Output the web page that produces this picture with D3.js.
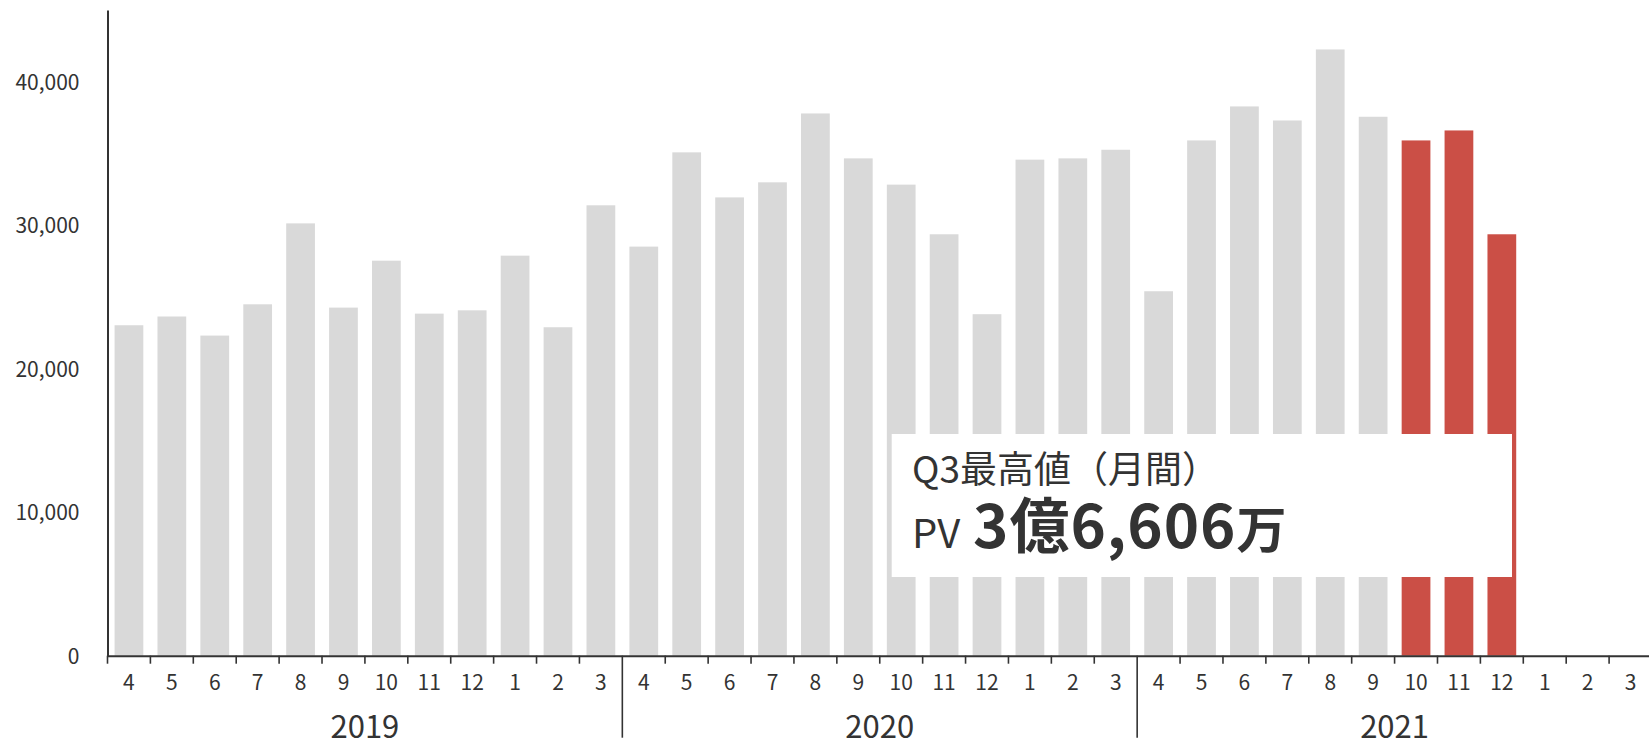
<!DOCTYPE html>
<html lang="ja">
<head>
<meta charset="utf-8">
<script src="https://cdn.jsdelivr.net/npm/d3@7"></script>
<style>
  body { margin: 0; background: #fff; }
  svg text { font-family: "Noto Sans CJK JP", "Noto Sans", sans-serif; fill: #333; }
  .axis path, .axis line { stroke: #333; }
</style>
</head>
<body>
<div id="chart"></div>
<script>
// fiscal years (April - March)
const fiscalYears = ["2019", "2020", "2021"];
const monthLabels = ["4", "5", "6", "7", "8", "9", "10", "11", "12", "1", "2", "3"];

// monthly PV, in 万
const pv2019 = [23030, 23640, 22310, 24490, 30130, 24260, 27530, 23840, 24070, 27880, 22890, 31390];
const pv2020 = [28510, 35080, 31940, 32990, 37790, 34660, 32830, 29370, 23800, 34570, 34660, 35260];
const pv2021 = [25400, 35910, 38280, 37300, 42250, 37560, 35910, 36606, 29370, null, null, null];

// Q3 of FY2021 is highlighted
const highlight = ["2021-10", "2021-11", "2021-12"];

const yTicks = [0, 10000, 20000, 30000, 40000];

const noteTitle = "Q3最高値（月間）";
const notePrefix = "PV";
const noteValue = "3億6,606";
const noteUnit = "万";

const width = 1649, height = 745;

let data = [];
[pv2019, pv2020, pv2021].forEach((vals, yi) => {
    vals.forEach((v, mi) => {
        data.push({
            key: fiscalYears[yi] + "-" + monthLabels[mi],
            year: fiscalYears[yi],
            month: monthLabels[mi],
            value: v
        });
    });
});

const svg = d3.select("#chart").append("svg")
    .attr("width", width)
    .attr("height", height);

const x = d3.scaleBand()
    .domain(data.map(d => d.key))
    .range([107.5, 1652])
    .paddingInner(0.33)
    .paddingOuter(0.165);

const y = d3.scaleLinear()
    .domain([0, 45000])
    .range([655.7, 10]);

const half = (x.step() - x.bandwidth()) / 2;

// bars
svg.append("g").selectAll("rect")
    .data(data.filter(d => d.value != null))
    .enter()
    .append("rect")
    .attr("x", d => x(d.key))
    .attr("y", d => y(d.value))
    .attr("width", x.bandwidth())
    .attr("height", d => y(0) - y(d.value))
    .attr("fill", d => highlight.includes(d.key) ? "#cb4f46" : "#d9d9d9");

// y axis
const yAxis = svg.append("g")
    .attr("class", "axis")
    .attr("transform", "translate(107.5,0)")
    .call(d3.axisLeft(y).tickValues(yTicks).tickSize(0).tickSizeOuter(0)
        .tickPadding(28).tickFormat(d3.format(",")));
yAxis.select(".domain").attr("stroke-width", 2);
yAxis.selectAll("text").style("font-size", "21px").attr("dy", "0.36em");

// x axis with month labels
const xAxis = svg.append("g")
    .attr("class", "axis")
    .attr("transform", "translate(0," + y(0) + ")")
    .call(d3.axisBottom(x).tickSize(0).tickSizeOuter(0)
        .tickFormat(k => k.split("-")[1]));
xAxis.select(".domain").attr("stroke-width", 2);
xAxis.selectAll("text").style("font-size", "21px").attr("y", 34).attr("dy", null);

// month boundary ticks, longer at fiscal year start
xAxis.selectAll("line.bound")
    .data(data)
    .enter()
    .append("line")
    .attr("class", "bound")
    .attr("x1", d => x(d.key) - half)
    .attr("x2", d => x(d.key) - half)
    .attr("y1", 0)
    .attr("y2", (d, i) => (d.month === "4" && i > 0) ? 82 : 8)
    .attr("stroke-width", 1.6);

// fiscal year labels
xAxis.selectAll("text.year")
    .data(fiscalYears)
    .enter()
    .append("text")
    .attr("class", "year")
    .attr("x", fy => {
        let keys = data.filter(d => d.year === fy).map(d => d.key);
        let a = x(keys[0]) - half, b = x(keys[keys.length - 1]) + x.bandwidth() + half;
        return (a + b) / 2;
    })
    .attr("y", 82)
    .attr("text-anchor", "middle")
    .style("font-size", "31px")
    .text(d => d);

// annotation box
const note = svg.append("g");
note.append("rect")
    .attr("x", 891.7)
    .attr("y", 434)
    .attr("width", 620.3)
    .attr("height", 143)
    .attr("fill", "#fff");

note.append("text")
    .attr("x", 912)
    .attr("y", 483)
    .style("font-size", "37px")
    .text(noteTitle);

const line2 = note.append("text")
    .attr("x", 912)
    .attr("y", 548)
    .style("font-size", "40px");
line2.append("tspan").text(notePrefix);
line2.append("tspan")
    .attr("x", 973)
    .style("font-size", "60px")
    .style("font-weight", "700")
    .style("letter-spacing", "1px")
    .text(noteValue);
line2.append("tspan")
    .style("font-size", "50px")
    .style("font-weight", "700")
    .text(noteUnit);
</script>
</body>
</html>
